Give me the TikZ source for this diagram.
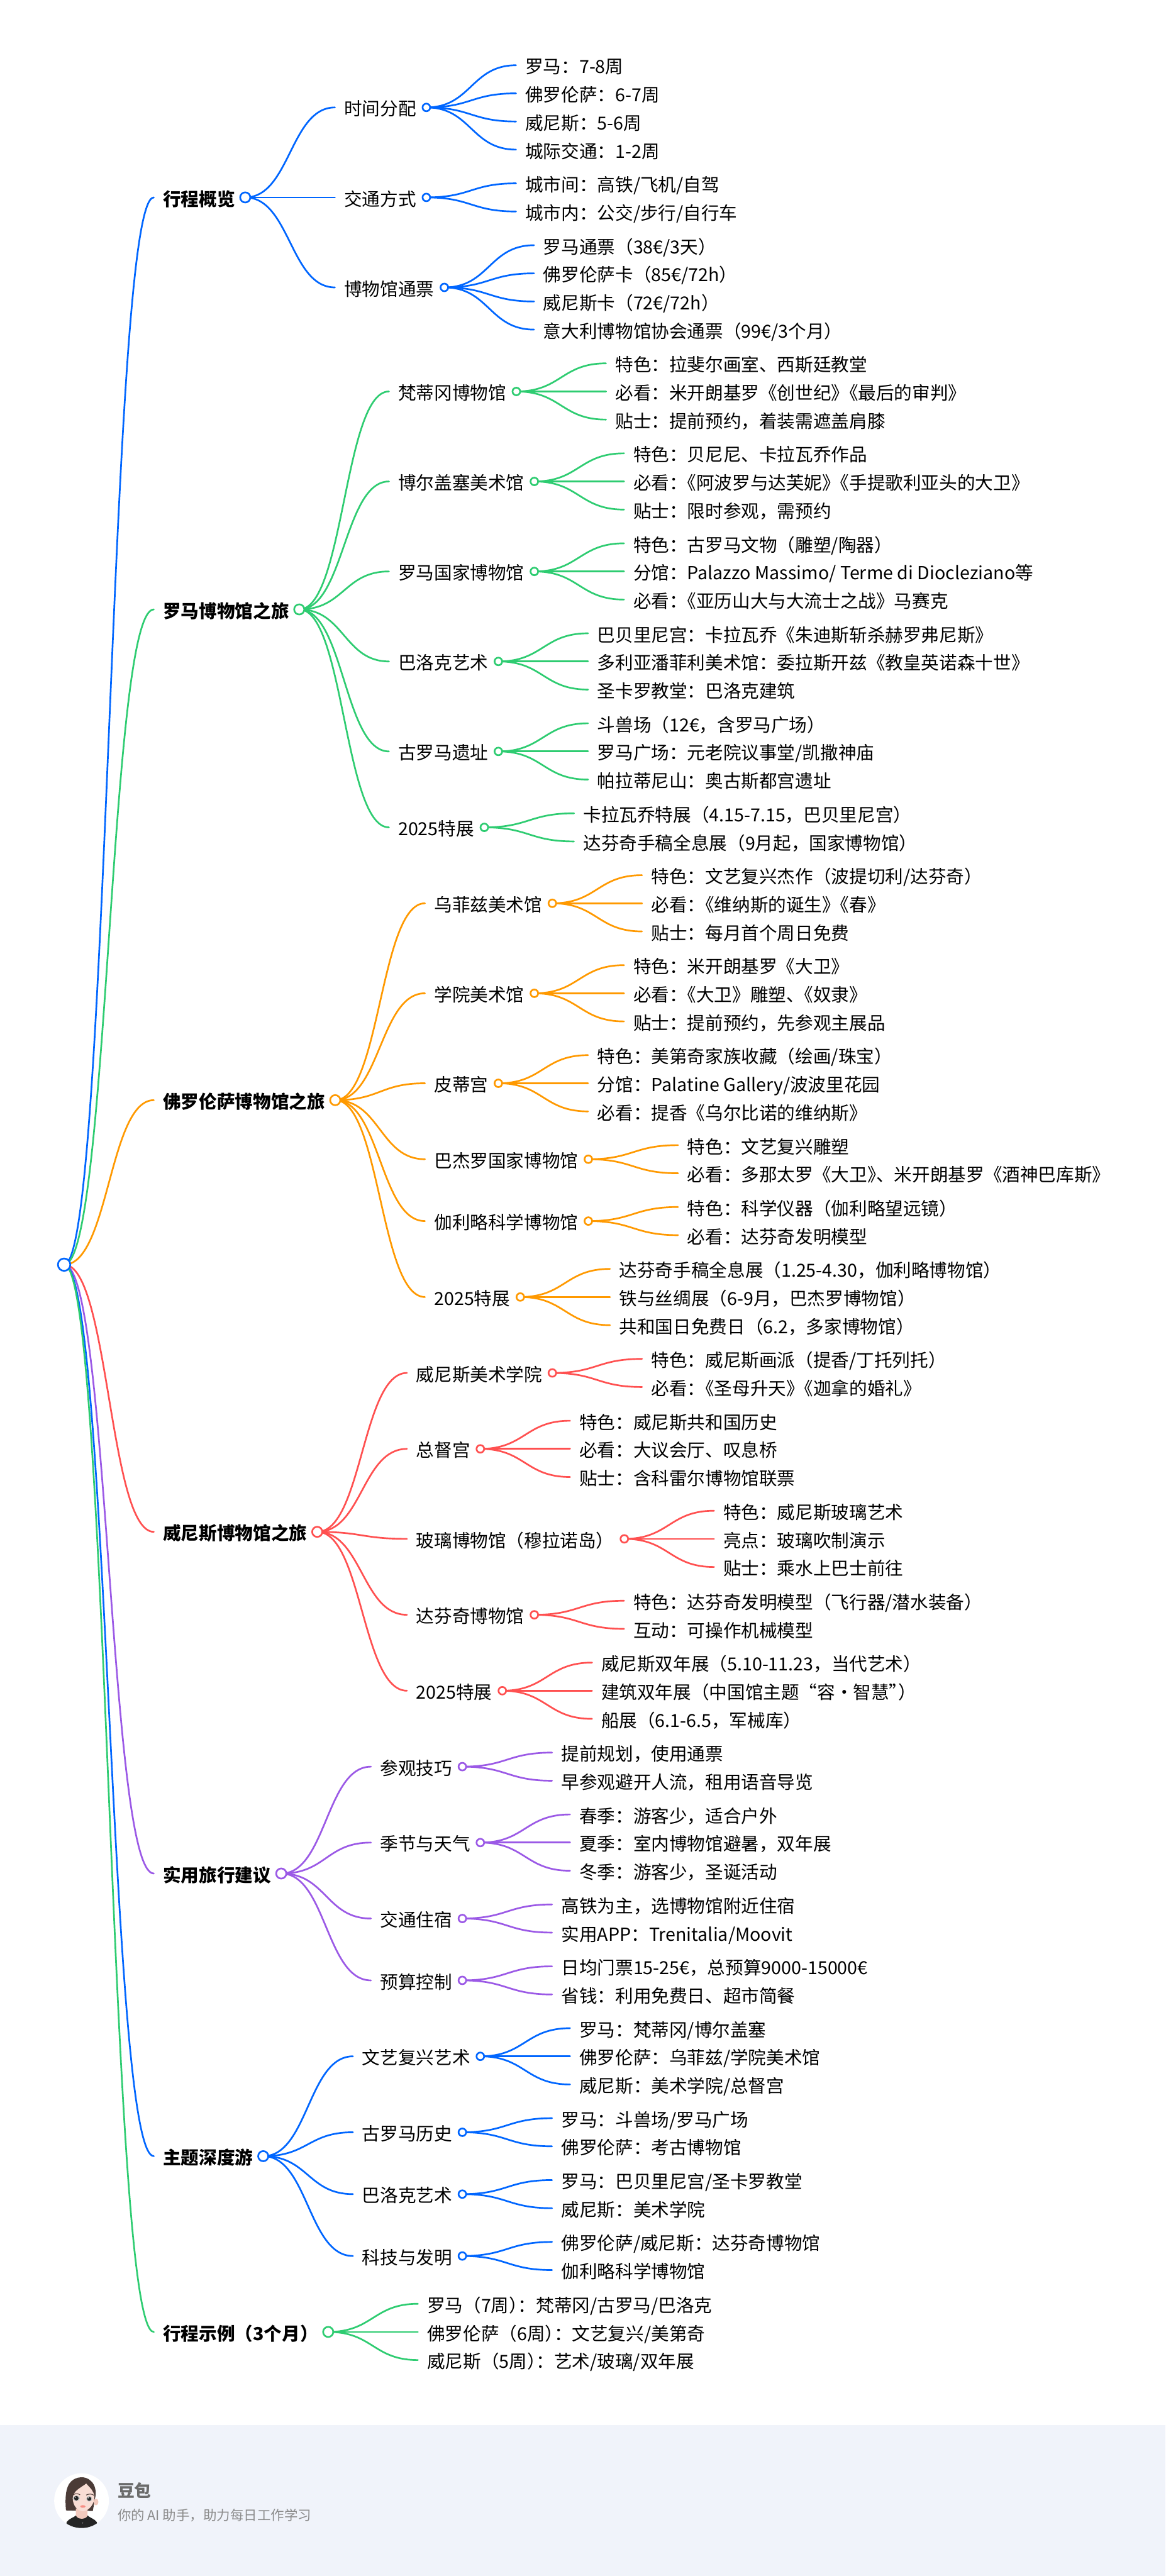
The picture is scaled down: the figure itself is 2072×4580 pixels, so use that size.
\documentclass[tikz,border=0pt]{standalone}
\usepackage{fontspec}
\setmainfont{Noto Sans CJK SC}
\usetikzlibrary{calc}
\pgfdeclarelayer{bg}
\pgfdeclarelayer{edges}
\pgfsetlayers{bg,edges,main}
\definecolor{cblue}{HTML}{0066FF}
\definecolor{cgreen}{HTML}{2ECC71}
\definecolor{corange}{HTML}{FF9900}
\definecolor{cred}{HTML}{FF5050}
\definecolor{cpurple}{HTML}{9B59E6}
\definecolor{footbg}{HTML}{F0F3FA}
\definecolor{hairc}{HTML}{4B3B37}
\definecolor{skinc}{HTML}{F9DDD5}
\definecolor{neckc}{HTML}{F2C9BD}
\def\basedrop{14.7pt}
\newcommand{\tk}{\kern-16pt\relax}
\tikzset{
  lblbase/.style={inner sep=0pt,outer sep=0pt,anchor=base west,text=black},
  lblone/.style={lblbase,font=\bfseries\fontsize{32}{38}\selectfont},
  lbltwo/.style={lblbase,font=\fontsize{32}{38}\selectfont},
  conn/.style={line width=3pt,line cap=round},
  mmdot/.style={circle,draw=#1,fill=white,line width=3pt,inner sep=0pt,outer sep=0pt,minimum size=13.5pt},
  mmdotbig/.style={mmdot=#1,minimum size=18pt},
  foottitle/.style={inner sep=0pt,anchor=base west,text=black!58,font=\bfseries\fontsize{30}{36}\selectfont},
  footsub/.style={inner sep=0pt,anchor=base west,text=black!45,font=\fontsize{24}{30}\selectfont},
}
% style, name, parent, y, text
\newcommand{\mmtext}[5]{%
  \path let \p1=(#3-c.center) in node[#1] (#2) at (\x1+176pt,-#4pt-\basedrop) {#5};
  \coordinate (#2-in) at ([shift={(-16.5pt,\basedrop)}]#2.base west);
}
% parent, child, colour
\newcommand{\mmlink}[3]{%
  \begin{pgfonlayer}{edges}
  \draw[conn,#3] let \p1=(#1-c.center),\p2=(#2-in) in
    (#1-c.center) .. controls (\x1/2+\x2/2,\y1) and (\x1/2+\x2/2,\y2) .. (#2-in);
  \end{pgfonlayer}
}
% name, parent, y, colour, text : main branch
\newcommand{\mmA}[5]{%
  \mmtext{lblone}{#1}{#2}{#3}{#5}
  \node[mmdotbig=#4] (#1-c) at ([shift={(18pt,\basedrop)}]#1.base east) {};
  \mmlink{#2}{#1}{#4}
}
% name, parent, y, colour, text : second level
\newcommand{\mmB}[5]{%
  \mmtext{lbltwo}{#1}{#2}{#3}{#5}
  \node[mmdot=#4] (#1-c) at ([shift={(18pt,\basedrop)}]#1.base east) {};
  \mmlink{#2}{#1}{#4}
}
% name, parent, y, colour, text : leaf
\newcommand{\mmC}[5]{%
  \mmtext{lbltwo}{#1}{#2}{#3}{#5}
  \mmlink{#2}{#1}{#4}
}
\begin{document}
\begin{tikzpicture}[x=1pt,y=1pt]
\useasboundingbox (0,0) rectangle (2072,-4580);
\begin{pgfonlayer}{bg}
\fill[white] (0,0) rectangle (2072,-4312);
\fill[footbg] (0,-4312) rectangle (2072,-4580);
\end{pgfonlayer}

\node[mmdot=cblue,minimum size=22pt] (root-c) at (114,-2248.5) {};

% ---- overview
\mmA{a}{root}{351}{cblue}{行程概览}
\mmB{aa}{a}{191}{cblue}{时间分配}
\mmC{aaa}{aa}{116}{cblue}{罗马：7-8周}
\mmC{aab}{aa}{166}{cblue}{佛罗伦萨：6-7周}
\mmC{aac}{aa}{216}{cblue}{威尼斯：5-6周}
\mmC{aad}{aa}{266}{cblue}{城际交通：1-2周}
\mmB{ab}{a}{351}{cblue}{交通方式}
\mmC{aba}{ab}{326}{cblue}{城市间：高铁/飞机/自驾}
\mmC{abb}{ab}{376}{cblue}{城市内：公交/步行/自行车}
\mmB{ac}{a}{511}{cblue}{博物馆通票}
\mmC{aca}{ac}{436}{cblue}{罗马通票（38€/3天）}
\mmC{acb}{ac}{486}{cblue}{佛罗伦萨卡（85€/72h）}
\mmC{acc}{ac}{536}{cblue}{威尼斯卡（72€/72h）}
\mmC{acd}{ac}{586}{cblue}{意大利博物馆协会通票（99€/3个月）}

% ---- Rome
\mmA{b}{root}{1083.5}{cgreen}{罗马博物馆之旅}
\mmB{ba}{b}{696}{cgreen}{梵蒂冈博物馆}
\mmC{baa}{ba}{646}{cgreen}{特色：拉斐尔画室、西斯廷教堂}
\mmC{bab}{ba}{696}{cgreen}{必看：米开朗基罗《创世纪》\tk《最后的审判》}
\mmC{bac}{ba}{746}{cgreen}{贴士：提前预约，着装需遮盖肩膝}
\mmB{bb}{b}{856}{cgreen}{博尔盖塞美术馆}
\mmC{bba}{bb}{806}{cgreen}{特色：贝尼尼、卡拉瓦乔作品}
\mmC{bbb}{bb}{856}{cgreen}{必看：\tk《阿波罗与达芙妮》\tk《手提歌利亚头的大卫》}
\mmC{bbc}{bb}{906}{cgreen}{贴士：限时参观，需预约}
\mmB{bc}{b}{1016}{cgreen}{罗马国家博物馆}
\mmC{bca}{bc}{966}{cgreen}{特色：古罗马文物（雕塑/陶器）}
\mmC{bcb}{bc}{1016}{cgreen}{分馆：Palazzo Massimo/ Terme di Diocleziano等}
\mmC{bcc}{bc}{1066}{cgreen}{必看：\tk《亚历山大与大流士之战》马赛克}
\mmB{bd}{b}{1176}{cgreen}{巴洛克艺术}
\mmC{bda}{bd}{1126}{cgreen}{巴贝里尼宫：卡拉瓦乔《朱迪斯斩杀赫罗弗尼斯》}
\mmC{bdb}{bd}{1176}{cgreen}{多利亚潘菲利美术馆：委拉斯开兹《教皇英诺森十世》}
\mmC{bdc}{bd}{1226}{cgreen}{圣卡罗教堂：巴洛克建筑}
\mmB{be}{b}{1336}{cgreen}{古罗马遗址}
\mmC{bea}{be}{1286}{cgreen}{斗兽场（12€，含罗马广场）}
\mmC{beb}{be}{1336}{cgreen}{罗马广场：元老院议事堂/凯撒神庙}
\mmC{bec}{be}{1386}{cgreen}{帕拉蒂尼山：奥古斯都宫遗址}
\mmB{bf}{b}{1471}{cgreen}{2025特展}
\mmC{bfa}{bf}{1446}{cgreen}{卡拉瓦乔特展（4.15-7.15，巴贝里尼宫）}
\mmC{bfb}{bf}{1496}{cgreen}{达芬奇手稿全息展（9月起，国家博物馆）}

% ---- Florence
\mmA{c}{root}{1956}{corange}{佛罗伦萨博物馆之旅}
\mmB{ca}{c}{1606}{corange}{乌菲兹美术馆}
\mmC{caa}{ca}{1556}{corange}{特色：文艺复兴杰作（波提切利/达芬奇）}
\mmC{cab}{ca}{1606}{corange}{必看：\tk《维纳斯的诞生》\tk《春》}
\mmC{cac}{ca}{1656}{corange}{贴士：每月首个周日免费}
\mmB{cb}{c}{1766}{corange}{学院美术馆}
\mmC{cba}{cb}{1716}{corange}{特色：米开朗基罗《大卫》}
\mmC{cbb}{cb}{1766}{corange}{必看：\tk《大卫》雕塑、\tk《奴隶》}
\mmC{cbc}{cb}{1816}{corange}{贴士：提前预约，先参观主展品}
\mmB{cc}{c}{1926}{corange}{皮蒂宫}
\mmC{cca}{cc}{1876}{corange}{特色：美第奇家族收藏（绘画/珠宝）}
\mmC{ccb}{cc}{1926}{corange}{分馆：Palatine Gallery/波波里花园}
\mmC{ccc}{cc}{1976}{corange}{必看：提香《乌尔比诺的维纳斯》}
\mmB{cd}{c}{2061}{corange}{巴杰罗国家博物馆}
\mmC{cda}{cd}{2036}{corange}{特色：文艺复兴雕塑}
\mmC{cdb}{cd}{2086}{corange}{必看：多那太罗《大卫》\tk、米开朗基罗《酒神巴库斯》}
\mmB{ce}{c}{2171}{corange}{伽利略科学博物馆}
\mmC{cea}{ce}{2146}{corange}{特色：科学仪器（伽利略望远镜）}
\mmC{ceb}{ce}{2196}{corange}{必看：达芬奇发明模型}
\mmB{cf}{c}{2306}{corange}{2025特展}
\mmC{cfa}{cf}{2256}{corange}{达芬奇手稿全息展（1.25-4.30，伽利略博物馆）}
\mmC{cfb}{cf}{2306}{corange}{铁与丝绸展（6-9月，巴杰罗博物馆）}
\mmC{cfc}{cf}{2356}{corange}{共和国日免费日（6.2，多家博物馆）}

% ---- Venice
\mmA{d}{root}{2723.5}{cred}{威尼斯博物馆之旅}
\mmB{da}{d}{2441}{cred}{威尼斯美术学院}
\mmC{daa}{da}{2416}{cred}{特色：威尼斯画派（提香/丁托列托）}
\mmC{dab}{da}{2466}{cred}{必看：\tk《圣母升天》\tk《迦拿的婚礼》}
\mmB{db}{d}{2576}{cred}{总督宫}
\mmC{dba}{db}{2526}{cred}{特色：威尼斯共和国历史}
\mmC{dbb}{db}{2576}{cred}{必看：大议会厅、叹息桥}
\mmC{dbc}{db}{2626}{cred}{贴士：含科雷尔博物馆联票}
\mmB{dc}{d}{2736}{cred}{玻璃博物馆（穆拉诺岛）}
\mmC{dca}{dc}{2686}{cred}{特色：威尼斯玻璃艺术}
\mmC{dcb}{dc}{2736}{cred}{亮点：玻璃吹制演示}
\mmC{dcc}{dc}{2786}{cred}{贴士：乘水上巴士前往}
\mmB{dd}{d}{2871}{cred}{达芬奇博物馆}
\mmC{dda}{dd}{2846}{cred}{特色：达芬奇发明模型（飞行器/潜水装备）}
\mmC{ddb}{dd}{2896}{cred}{互动：可操作机械模型}
\mmB{de}{d}{3006}{cred}{2025特展}
\mmC{dea}{de}{2956}{cred}{威尼斯双年展（5.10-11.23，当代艺术）}
\mmC{deb}{de}{3006}{cred}{建筑双年展（中国馆主题“容·智慧”\tk）}
\mmC{dec}{de}{3056}{cred}{船展（6.1-6.5，军械库）}

% ---- Practical
\mmA{e}{root}{3331}{cpurple}{实用旅行建议}
\mmB{ea}{e}{3141}{cpurple}{参观技巧}
\mmC{eaa}{ea}{3116}{cpurple}{提前规划，使用通票}
\mmC{eab}{ea}{3166}{cpurple}{早参观避开人流，租用语音导览}
\mmB{eb}{e}{3276}{cpurple}{季节与天气}
\mmC{eba}{eb}{3226}{cpurple}{春季：游客少，适合户外}
\mmC{ebb}{eb}{3276}{cpurple}{夏季：室内博物馆避暑，双年展}
\mmC{ebc}{eb}{3326}{cpurple}{冬季：游客少，圣诞活动}
\mmB{ec}{e}{3411}{cpurple}{交通住宿}
\mmC{eca}{ec}{3386}{cpurple}{高铁为主，选博物馆附近住宿}
\mmC{ecb}{ec}{3436}{cpurple}{实用APP：Trenitalia/Moovit}
\mmB{ed}{e}{3521}{cpurple}{预算控制}
\mmC{eda}{ed}{3496}{cpurple}{日均门票15-25€，总预算9000-15000€}
\mmC{edb}{ed}{3546}{cpurple}{省钱：利用免费日、超市简餐}

% ---- Themes
\mmA{f}{root}{3833.5}{cblue}{主题深度游}
\mmB{fa}{f}{3656}{cblue}{文艺复兴艺术}
\mmC{faa}{fa}{3606}{cblue}{罗马：梵蒂冈/博尔盖塞}
\mmC{fab}{fa}{3656}{cblue}{佛罗伦萨：乌菲兹/学院美术馆}
\mmC{fac}{fa}{3706}{cblue}{威尼斯：美术学院/总督宫}
\mmB{fb}{f}{3791}{cblue}{古罗马历史}
\mmC{fba}{fb}{3766}{cblue}{罗马：斗兽场/罗马广场}
\mmC{fbb}{fb}{3816}{cblue}{佛罗伦萨：考古博物馆}
\mmB{fc}{f}{3901}{cblue}{巴洛克艺术}
\mmC{fca}{fc}{3876}{cblue}{罗马：巴贝里尼宫/圣卡罗教堂}
\mmC{fcb}{fc}{3926}{cblue}{威尼斯：美术学院}
\mmB{fd}{f}{4011}{cblue}{科技与发明}
\mmC{fda}{fd}{3986}{cblue}{佛罗伦萨/威尼斯：达芬奇博物馆}
\mmC{fdb}{fd}{4036}{cblue}{伽利略科学博物馆}

% ---- Sample
\mmA{g}{root}{4146}{cgreen}{行程示例（3个月）}
\mmC{ga}{g}{4096}{cgreen}{罗马（7周）\tk：梵蒂冈/古罗马/巴洛克}
\mmC{gb}{g}{4146}{cgreen}{佛罗伦萨（6周）\tk：文艺复兴/美第奇}
\mmC{gc}{g}{4196}{cgreen}{威尼斯（5周）\tk：艺术/玻璃/双年展}

% ---- footer avatar
\begin{scope}[shift={(85,-4385)},x=0.33333pt,y=-0.33333pt]
  \fill[white] (180,183) circle (146);
  \begin{scope}
    \clip (180,183) circle (146);
    \fill[black!86] (100,340) -- (100,297) .. controls (115,278) and (140,272) .. (150,262) -- (212,262) .. controls (225,275) and (250,280) .. (262,298) -- (262,340) -- cycle;
    \fill[hairc] (97,235) .. controls (92,180) and (92,110) .. (125,80) .. controls (150,55) and (200,48) .. (230,78) .. controls (255,100) and (260,140) .. (252,170) -- (240,238) -- (130,236) -- cycle;
    \fill[neckc] (150,225) -- (150,262) .. controls (158,285) and (205,285) .. (212,262) -- (212,225) -- cycle;
    \fill[neckc] (257,190) ellipse (13 and 18);
    \fill[skinc] (133,170) .. controls (135,130) and (175,115) .. (205,92) .. controls (225,115) and (245,130) .. (248,160) .. controls (250,200) and (220,238) .. (187,240) .. controls (155,238) and (133,205) .. (133,170) -- cycle;
    \draw[hairc,line width=1.2pt] (135,152) .. controls (148,142) and (162,145) .. (172,152);
    \draw[hairc,line width=1.2pt] (205,153) .. controls (218,146) and (235,146) .. (245,154);
    \fill[black!22] (152,170) ellipse (19 and 15);
    \fill[black!22] (221,173) ellipse (16 and 15);
    \fill[black!85] (152,170) circle (12);
    \fill[black!85] (221,173) circle (11);
    \fill[white] (148,165) circle (3);
    \fill[white] (217,168) circle (3);
    \fill[neckc!70!red] (187,214) ellipse (14 and 7);
    \fill[black!40] (186,302) circle (3);
  \end{scope}
\end{scope}
\node[foottitle] (ftitle) at (209,-4440) {豆包};
\node[footsub] (fsub) at (209,-4481) {你的 AI 助手，助力每日工作学习};
\end{tikzpicture}
\end{document}
